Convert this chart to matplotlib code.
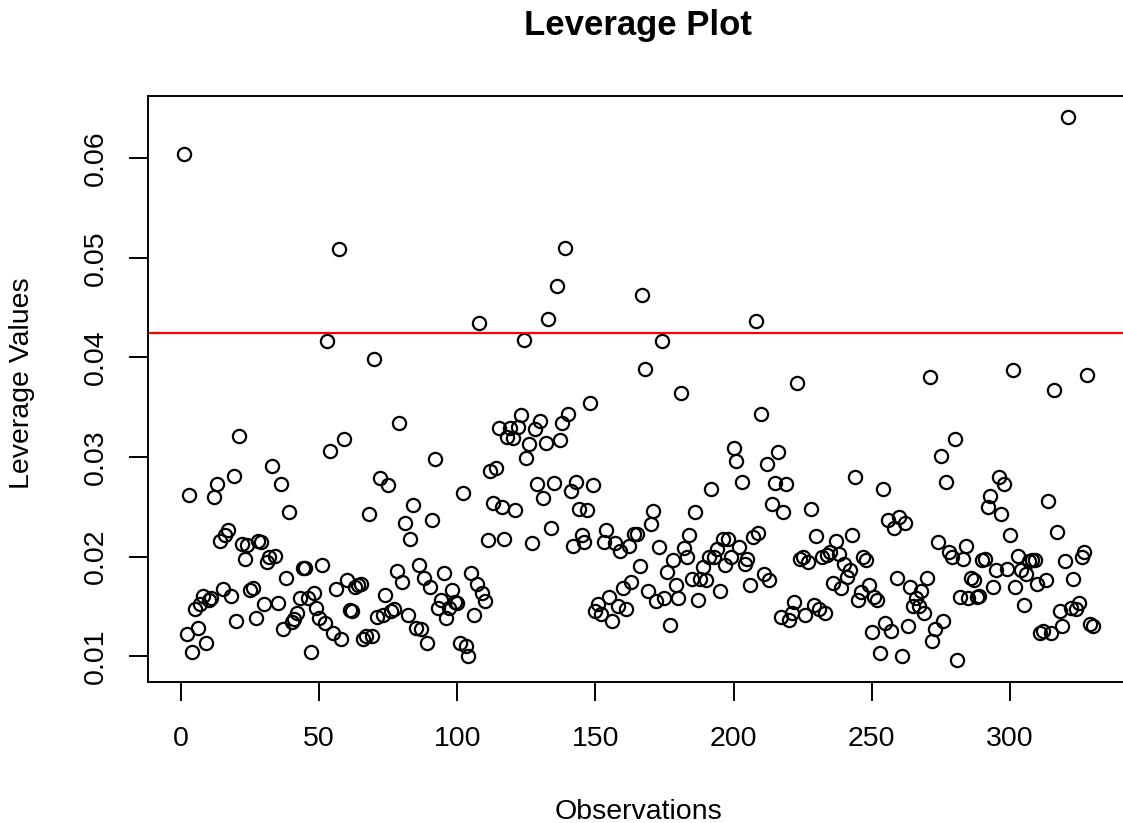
import numpy as np
import matplotlib.pyplot as plt

lev_001_031 = [0.0604, 0.0122, 0.0262, 0.0104, 0.0147, 0.0128, 0.0152, 0.0161, 0.0113, 0.0156,
               0.0158, 0.0260, 0.0273, 0.0216, 0.0168, 0.0222, 0.0227, 0.0161, 0.0281, 0.0135,
               0.0321, 0.0213, 0.0198, 0.0212, 0.0167, 0.0169, 0.0138, 0.0216, 0.0215, 0.0152,
               0.0195]
lev_032_076 = [0.0200, 0.0291, 0.0201, 0.0153, 0.0273, 0.0127, 0.0179, 0.0245, 0.0134, 0.0137,
               0.0143, 0.0159, 0.0189, 0.0189, 0.0158, 0.0104, 0.0164, 0.0148, 0.0138, 0.0192,
               0.0133, 0.0416, 0.0306, 0.0123, 0.0168, 0.0509, 0.0117, 0.0318, 0.0177, 0.0146,
               0.0145, 0.0170, 0.0172, 0.0173, 0.0117, 0.0120, 0.0243, 0.0120, 0.0398, 0.0139,
               0.0279, 0.0141, 0.0162, 0.0272, 0.0145]
lev_077_119 = [0.0147, 0.0186, 0.0334, 0.0175, 0.0234, 0.0141, 0.0218, 0.0252, 0.0128, 0.0192,
               0.0127, 0.0179, 0.0113, 0.0170, 0.0237, 0.0298, 0.0148, 0.0156, 0.0184, 0.0138,
               0.0148, 0.0167, 0.0154, 0.0153, 0.0113, 0.0264, 0.0110, 0.0100, 0.0184, 0.0141,
               0.0173, 0.0434, 0.0164, 0.0155, 0.0217, 0.0286, 0.0254, 0.0289, 0.0329, 0.0250,
               0.0218, 0.0320, 0.0329]
lev_120_163 = [0.0319, 0.0247, 0.0330, 0.0342, 0.0417, 0.0299, 0.0313, 0.0214, 0.0328, 0.0273,
               0.0336, 0.0259, 0.0314, 0.0438, 0.0229, 0.0274, 0.0472, 0.0317, 0.0334, 0.0510,
               0.0343, 0.0266, 0.0211, 0.0275, 0.0248, 0.0222, 0.0215, 0.0247, 0.0354, 0.0272,
               0.0145, 0.0152, 0.0142, 0.0215, 0.0227, 0.0160, 0.0135, 0.0214, 0.0150, 0.0206,
               0.0169, 0.0147, 0.0211, 0.0175]
lev_164_206 = [0.0223, 0.0223, 0.0191, 0.0463, 0.0388, 0.0166, 0.0233, 0.0246, 0.0155, 0.0210,
               0.0416, 0.0159, 0.0185, 0.0131, 0.0197, 0.0172, 0.0158, 0.0364, 0.0209, 0.0200,
               0.0222, 0.0178, 0.0245, 0.0156, 0.0178, 0.0190, 0.0177, 0.0200, 0.0268, 0.0200,
               0.0208, 0.0166, 0.0218, 0.0192, 0.0218, 0.0200, 0.0309, 0.0296, 0.0210, 0.0275,
               0.0193, 0.0198, 0.0172]
lev_207_249 = [0.0220, 0.0436, 0.0224, 0.0343, 0.0183, 0.0293, 0.0177, 0.0253, 0.0274, 0.0305,
               0.0139, 0.0245, 0.0273, 0.0136, 0.0143, 0.0154, 0.0374, 0.0198, 0.0200, 0.0141,
               0.0195, 0.0248, 0.0151, 0.0221, 0.0147, 0.0200, 0.0143, 0.0202, 0.0205, 0.0174,
               0.0216, 0.0203, 0.0169, 0.0193, 0.0180, 0.0187, 0.0222, 0.0280, 0.0156, 0.0165,
               0.0200, 0.0197, 0.0172]
lev_250_291 = [0.0124, 0.0160, 0.0156, 0.0103, 0.0268, 0.0133, 0.0237, 0.0125, 0.0229, 0.0179,
               0.0240, 0.0100, 0.0234, 0.0130, 0.0170, 0.0150, 0.0158, 0.0150, 0.0166, 0.0143,
               0.0179, 0.0380, 0.0115, 0.0127, 0.0215, 0.0301, 0.0135, 0.0275, 0.0205, 0.0200,
               0.0318, 0.0096, 0.0160, 0.0198, 0.0211, 0.0158, 0.0179, 0.0177, 0.0160, 0.0161,
               0.0197, 0.0198]
lev_292_330 = [0.0250, 0.0261, 0.0170, 0.0187, 0.0280, 0.0243, 0.0273, 0.0188, 0.0222, 0.0387,
               0.0170, 0.0201, 0.0187, 0.0151, 0.0183, 0.0196, 0.0197, 0.0197, 0.0173, 0.0123,
               0.0125, 0.0177, 0.0256, 0.0123, 0.0367, 0.0225, 0.0145, 0.0130, 0.0196, 0.0641,
               0.0148, 0.0178, 0.0147, 0.0153, 0.0200, 0.0205, 0.0382, 0.0132, 0.0130]

threshold = 0.0424   # cut-off line (2p/n)

x_ticks = [0, 50, 100, 150, 200, 250, 300]
y_ticks = [0.01, 0.02, 0.03, 0.04, 0.05, 0.06]
y_tick_labels = ['0.01', '0.02', '0.03', '0.04', '0.05', '0.06']

leverage = np.array(lev_001_031 + lev_032_076 + lev_077_119 + lev_120_163
                    + lev_164_206 + lev_207_249 + lev_250_291 + lev_292_330)
obs = np.arange(1, len(leverage) + 1)

plt.rcParams['font.family'] = ['Liberation Sans', 'DejaVu Sans']

W, H = 1123, 823
fig = plt.figure(figsize=(W / 100, H / 100), dpi=100)
# plot region as in the R device (right edge runs just past the picture)
ax = fig.add_axes([147.5 / W, (H - 682) / H, (1129 - 147.5) / W, (682 - 95.5) / H])

ax.plot(obs, leverage, 'o', mfc='none', mec='black', ms=9.5, mew=1.6)
ax.axhline(threshold, color='red', lw=1.6)

# R style 4% padding on both axes
xr = obs.max() - obs.min()
ax.set_xlim(obs.min() - 0.04 * xr, obs.max() + 0.04 * xr)
yr = leverage.max() - leverage.min()
ax.set_ylim(leverage.min() - 0.04 * yr, leverage.max() + 0.04 * yr)

ax.set_xticks(x_ticks)
ax.set_xticklabels([str(t) for t in x_ticks])
ax.set_yticks(y_ticks)
ax.set_yticklabels(y_tick_labels, rotation=90, va='center')

ax.tick_params(direction='out', length=13.7, width=1.4, labelsize=20.5, color='black')
ax.tick_params(axis='x', pad=18)
ax.tick_params(axis='y', pad=14)
for s in ax.spines.values():
    s.set_linewidth(1.4)
    s.set_color('black')

fig.text(638 / W, 1 - 35 / H, 'Leverage Plot', ha='center', va='baseline',
         fontsize=25, fontweight='bold')
fig.text(638 / W, 1 - 819 / H, 'Observations', ha='center', va='baseline', fontsize=20.5)
fig.text(22.5 / W, 1 - 383 / H, 'Leverage Values', ha='center', va='center',
         rotation=90, fontsize=20.5)

fig.savefig('out.png', dpi=100)
